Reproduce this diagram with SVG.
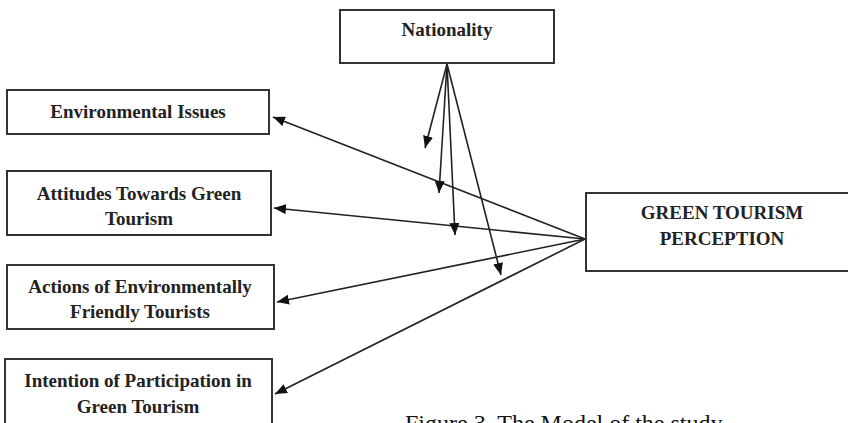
<svg xmlns="http://www.w3.org/2000/svg" width="848" height="423" viewBox="0 0 848 423">
<defs>
<marker id="ah" markerWidth="13" markerHeight="10" refX="12" refY="5" orient="auto" markerUnits="userSpaceOnUse">
<path d="M0,0 L12,5 L0,10 Z" fill="#111"/>
</marker>
<style>
.box{fill:#fff;stroke:#333;stroke-width:2}
.lbl{font-family:"Liberation Serif","Times New Roman",serif;font-weight:bold;font-size:19px;fill:#222;text-anchor:middle}
.con{stroke:#222;stroke-width:1.6;fill:none;marker-end:url(#ah)}
.cap{font-family:"Liberation Serif","Times New Roman",serif;font-size:24px;fill:#111}
</style>
</defs>
<rect width="848" height="423" fill="#fff"/>
<g id="nationality">
<rect class="box" x="340" y="10" width="214" height="53"/>
<text class="lbl" x="447" y="36">Nationality</text>
</g>
<g id="environmental-issues">
<rect class="box" x="7" y="90" width="262" height="44"/>
<text class="lbl" x="138" y="118">Environmental Issues</text>
</g>
<g id="attitudes">
<rect class="box" x="7" y="171" width="264" height="64"/>
<text class="lbl" x="139" y="200">Attitudes Towards Green</text>
<text class="lbl" x="139" y="225">Tourism</text>
</g>
<g id="actions">
<rect class="box" x="7" y="265" width="267" height="64"/>
<text class="lbl" x="140" y="293">Actions of Environmentally</text>
<text class="lbl" x="140" y="318">Friendly Tourists</text>
</g>
<g id="intention">
<rect class="box" x="5" y="359" width="267" height="80"/>
<text class="lbl" x="138" y="387">Intention of Participation in</text>
<text class="lbl" x="138" y="413">Green Tourism</text>
</g>
<g id="green-tourism-perception">
<rect class="box" x="586" y="193" width="272" height="78"/>
<text class="lbl" x="722" y="219">GREEN TOURISM</text>
<text class="lbl" x="722" y="245">PERCEPTION</text>
</g>
<g id="connectors">
<line class="con" x1="585" y1="239" x2="273" y2="117"/>
<line class="con" x1="585" y1="239" x2="274" y2="208"/>
<line class="con" x1="585" y1="239" x2="277" y2="302"/>
<line class="con" x1="585" y1="239" x2="275" y2="394"/>
<line class="con" x1="447" y1="64" x2="425" y2="148"/>
<line class="con" x1="447" y1="64" x2="439" y2="193"/>
<line class="con" x1="447" y1="64" x2="455" y2="235"/>
<line class="con" x1="447" y1="64" x2="501" y2="275"/>
</g>
<text class="cap" x="405" y="431">Figure 3. The Model of the study</text>
</svg>
